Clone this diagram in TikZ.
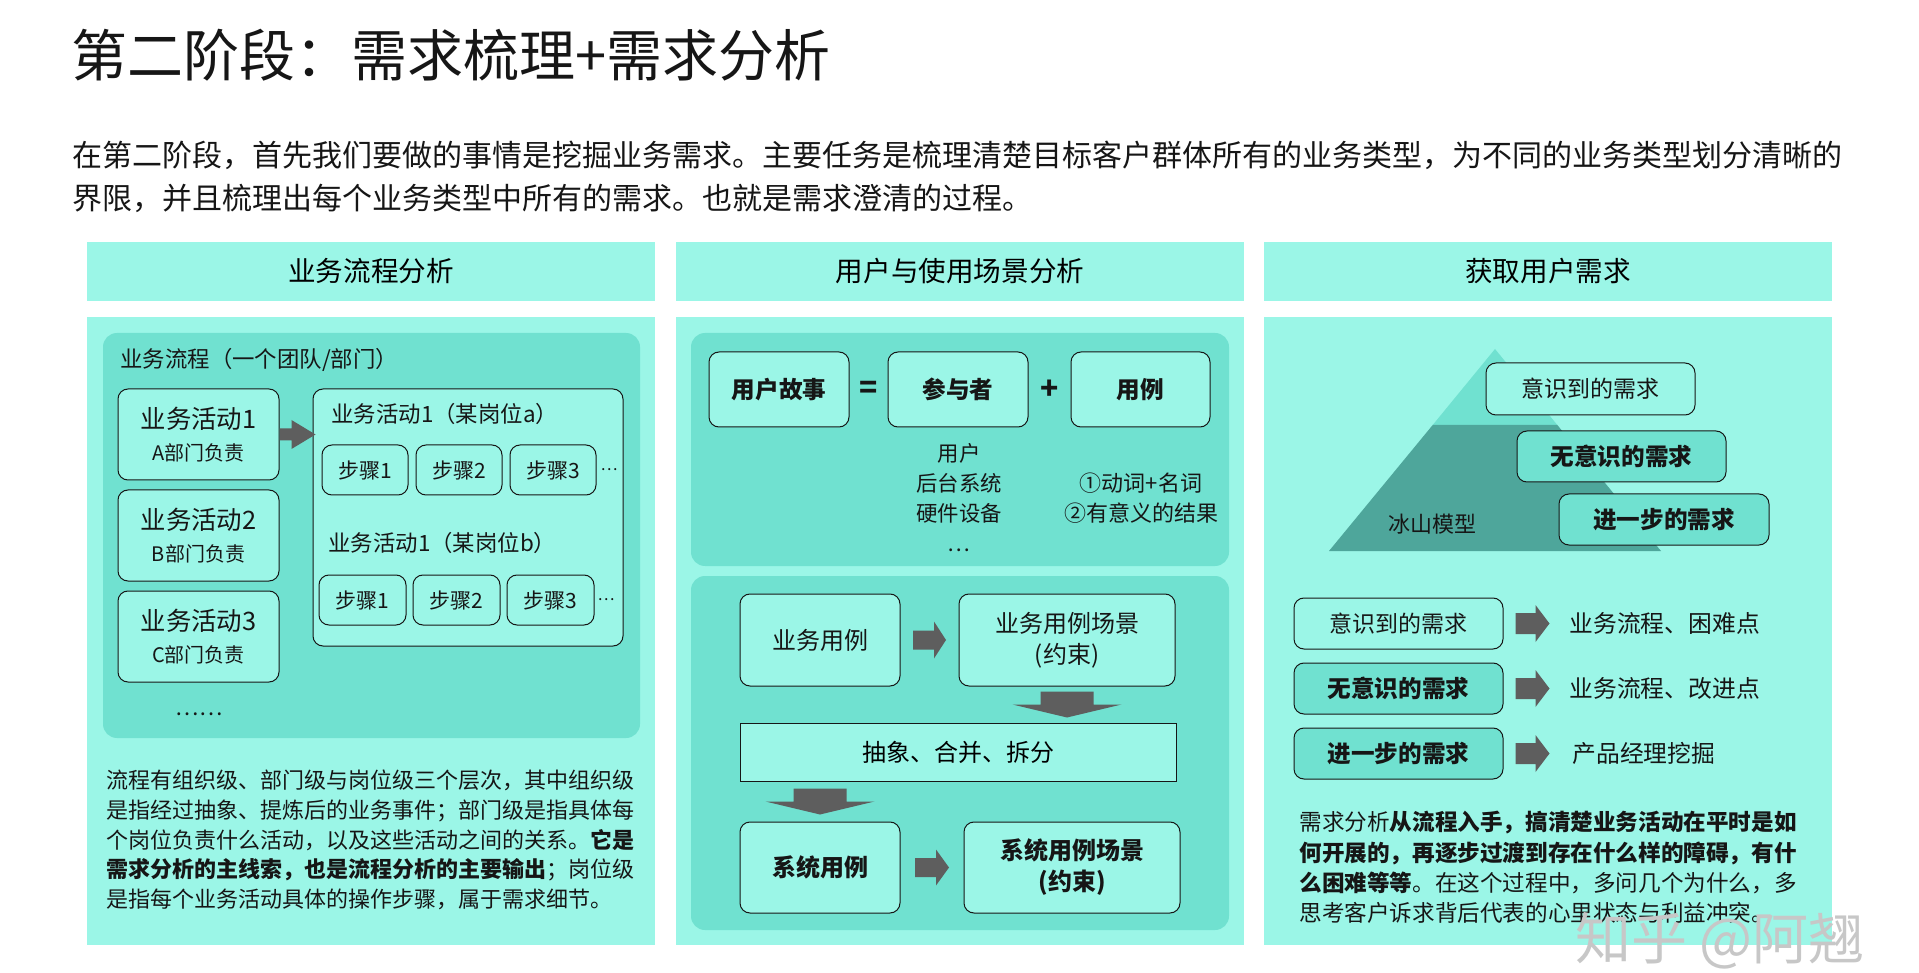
\documentclass[tikz,border=0pt]{standalone}
\usepackage{fontspec}
\setmainfont{Noto Sans CJK SC}
\usetikzlibrary{calc}
\definecolor{lt}{HTML}{9BF6E7}
\definecolor{md}{HTML}{70E1D0}
\definecolor{dk}{HTML}{4EA69B}
\definecolor{arc}{HTML}{5E5E5E}
\definecolor{ink}{HTML}{161616}
\newcommand\myfs[2]{\fontsize{#1}{#2}\selectfont}
% right block arrow: coord, length, head length, head height, shaft height
\newcommand\rblock[5]{\fill[arc, shift={(#1)}] ({-#2/2},{-#5/2}) -- ({#2/2-#3},{-#5/2}) -- ({#2/2-#3},{-#4/2}) -- ({#2/2},0) -- ({#2/2-#3},{#4/2}) -- ({#2/2-#3},{#5/2}) -- ({-#2/2},{#5/2}) -- cycle;}
% down block arrow: coord, total height, head length, head width, shaft width
\newcommand\dblock[5]{\fill[arc, shift={(#1)}] ({-#5/2},{-#2/2}) -- ({#5/2},{-#2/2}) -- ({#5/2},{#2/2-#3}) -- ({#4/2},{#2/2-#3}) -- (0,{#2/2}) -- ({-#4/2},{#2/2-#3}) -- ({-#5/2},{#2/2-#3}) -- cycle;}
\tikzset{
  spanbox/.style n args={4}{at={({(#1+#3)/2},{(#2+#4)/2})}, minimum width={(#3-#1)*0.5pt}, minimum height={(#4-#2)*0.5pt}},
  hdr/.style={fill=lt, draw=none, inner sep=0pt},
  inbox/.style={fill=md, draw=none, rounded corners=7pt, inner sep=0pt},
  bx/.style={draw=ink, line width=0.5pt, fill=lt, rounded corners=5pt, inner sep=0pt, align=center, text=ink},
  bxd/.style={bx, fill=md},
  txt/.style={inner sep=0pt, text=ink},
}
\begin{document}
\begin{tikzpicture}[x=0.5pt,y=-0.5pt]
\useasboundingbox (0,0) rectangle (1919,973);
\fill[white] (0,0) rectangle (1919,973);

% title and intro
\node[txt, anchor=west, font=\myfs{28}{32}] (title) at (71,55) {第二阶段：需求梳理+需求分析};
\node[txt, anchor=west, align=left, font=\myfs{15}{21.5}] (intro) at (72,177) {在第二阶段，首先我们要做的事情是挖掘业务需求。主要任务是梳理清楚目标客户群体所有的业务类型，为不同的业务类型划分清晰的\\界限，并且梳理出每个业务类型中所有的需求。也就是需求澄清的过程。};

% headers and panels
\node[hdr, spanbox={87}{242}{655}{301}, font=\myfs{13.8}{16}] (h1) {业务流程分析};
\node[hdr, spanbox={676}{242}{1244}{301}, font=\myfs{13.8}{16}] (h2) {用户与使用场景分析};
\node[hdr, spanbox={1264}{242}{1832}{301}, font=\myfs{13.8}{16}] (h3) {获取用户需求};
\node[hdr, spanbox={87}{317}{655}{945}] (p1) {};
\node[hdr, spanbox={676}{317}{1244}{945}] (p2) {};
\node[hdr, spanbox={1264}{317}{1832}{945}] (p3) {};

% ---------- panel 1 ----------
\node[inbox, spanbox={103}{333}{640}{738}] (i1) {};
\node[txt, anchor=west, font=\myfs{11.2}{13}] (lbl1) at (120,360) {业务流程（一个团队/部门）};
\node[bx, spanbox={118}{389}{279}{480}, font=\myfs{10}{16}] (a1) {{\myfs{12.7}{16}业务活动1}\\A部门负责};
\node[bx, spanbox={118}{490}{279}{581}, font=\myfs{10}{16}] (a2) {{\myfs{12.7}{16}业务活动2}\\B部门负责};
\node[bx, spanbox={118}{591}{279}{682}, font=\myfs{10}{16}] (a3) {{\myfs{12.7}{16}业务活动3}\\C部门负责};
\node[txt, font=\myfs{11}{13}] (more) at (199,714) {……};
\node[bx, spanbox={313}{389}{623}{646}] (rb) {};
\coordinate (ar1) at ($(a1.east)+(18,0)$);
\rblock{ar1}{36}{24}{29}{12}
\node[txt, anchor=west, font=\myfs{11.2}{13}] (ta) at (331,414) {业务活动1（某岗位a）};
\node[bx, spanbox={322}{445}{408}{495}, font=\myfs{10.5}{12}] (s11) {步骤1};
\node[bx, spanbox={416}{445}{502}{495}, font=\myfs{10.5}{12}] (s12) {步骤2};
\node[bx, spanbox={510}{445}{596}{495}, font=\myfs{10.5}{12}] (s13) {步骤3};
\node[txt, font=\myfs{8}{10}] (e1) at (609,470) {…};
\node[txt, anchor=west, font=\myfs{11.2}{13}] (tb) at (328,543) {业务活动1（某岗位b）};
\node[bx, spanbox={319}{575}{406}{625}, font=\myfs{10.5}{12}] (s21) {步骤1};
\node[bx, spanbox={413}{575}{500}{625}, font=\myfs{10.5}{12}] (s22) {步骤2};
\node[bx, spanbox={507}{575}{594}{625}, font=\myfs{10.5}{12}] (s23) {步骤3};
\node[txt, font=\myfs{8}{10}] (e2) at (606,600) {…};
\node[txt, anchor=west, align=left, font=\myfs{11}{14.9}] (para1) at (106,840) {流程有组织级、部门级与岗位级三个层次，其中组织级\\是指经过抽象、提炼后的业务事件；部门级是指具体每\\个岗位负责什么活动，以及这些活动之间的关系。\textbf{它是}\\\textbf{需求分析的主线索，也是流程分析的主要输出}；岗位级\\是指每个业务活动具体的操作步骤，属于需求细节。};

% ---------- panel 2 ----------
\node[inbox, spanbox={691}{333}{1229}{566}] (i2a) {};
\node[bx, spanbox={709}{352}{849}{427}, font=\myfs{11.8}{14}\bfseries] (us) {用户故事};
\node[bx, spanbox={888}{352}{1028}{427}, font=\myfs{11.8}{14}\bfseries] (act) {参与者};
\node[bx, spanbox={1071}{352}{1210}{427}, font=\myfs{11.8}{14}\bfseries] (uc) {用例};
\node[txt, font=\myfs{15}{16}\bfseries] (eq) at ($(us.east)!0.5!(act.west)$) {=};
\node[txt, font=\myfs{15}{16}\bfseries] (pl) at ($(act.east)!0.5!(uc.west)$) {+};
\node[txt, align=center, font=\myfs{10.7}{15}] (actl) at (959,498) {用户\\后台系统\\硬件设备\\…};
\node[txt, align=center, font=\myfs{11}{15}] (ucl) at (1141,498) {①动词+名词\\②有意义的结果};
\node[inbox, spanbox={691}{576}{1229}{930}] (i2b) {};
\node[bx, spanbox={740}{594}{900}{686}, font=\myfs{12}{15.5}] (buc) {业务用例};
\node[bx, spanbox={959}{594}{1175}{686}, font=\myfs{12}{15.5}] (bucs) {业务用例场景\\(约束)};
\node[draw=ink, line width=0.5pt, fill=lt, inner sep=0pt, spanbox={740}{723}{1176}{781}, font=\myfs{12}{15}] (abs) {抽象、合并、拆分};
\node[bx, spanbox={740}{822}{900}{913}, font=\myfs{12}{15.5}\bfseries] (suc) {系统用例};
\node[bx, spanbox={964}{822}{1180}{913}, font=\myfs{12}{15.5}\bfseries] (sucs) {系统用例场景\\(约束)};
\coordinate (ar2) at ($(buc.east)!0.5!(bucs.west)$);
\rblock{ar2}{33}{12}{37}{19}
\coordinate (ar3) at ($(suc.east)!0.5!(sucs.west)$);
\rblock{ar3}{34}{13}{36}{19}
\coordinate (dr1) at ($(bucs.south)!0.5!(abs.north -| bucs.south)$);
\dblock{dr1}{26}{13}{109}{53}
\coordinate (dr2) at ($(abs.south -| suc.north)!0.5!(suc.north)$);
\dblock{dr2}{26}{13}{109}{53}

% ---------- panel 3 ----------
\fill[md] (1495,349) -- (1557.3,425) -- (1432.7,425) -- cycle;
\fill[dk] (1432.7,425) -- (1557.3,425) -- (1661,551) -- (1329,551) -- cycle;
\node[txt, font=\myfs{11}{13}] (ice) at (1432,524) {冰山模型};
\node[bx, spanbox={1486}{363}{1695}{415}, font=\myfs{11.5}{13}] (k1) {意识到的需求};
\node[bxd, spanbox={1517}{431}{1726}{482}, font=\myfs{11.8}{13}\bfseries] (k2) {无意识的需求};
\node[bxd, spanbox={1559}{494}{1769}{545}, font=\myfs{11.8}{13}\bfseries] (k3) {进一步的需求};

\node[bx, spanbox={1294}{598}{1503}{649}, font=\myfs{11.5}{13}] (r1) {意识到的需求};
\node[bxd, spanbox={1294}{663}{1503}{714}, font=\myfs{11.8}{13}\bfseries] (r2) {无意识的需求};
\node[bxd, spanbox={1294}{728}{1503}{779}, font=\myfs{11.8}{13}\bfseries] (r3) {进一步的需求};
\node[txt, anchor=west, font=\myfs{11.9}{13}] (t1) at (1569,623.5) {业务流程、困难点};
\node[txt, anchor=west, font=\myfs{11.9}{13}] (t2) at (1569,688.5) {业务流程、改进点};
\node[txt, anchor=west, font=\myfs{11.9}{13}] (t3) at (1572,753.5) {产品经理挖掘};
\coordinate (g1) at ($(r1.east)+(29,0)$);
\rblock{g1}{34}{14}{37}{21}
\coordinate (g2) at ($(r2.east)+(29,0)$);
\rblock{g2}{34}{14}{37}{21}
\coordinate (g3) at ($(r3.east)+(29,0)$);
\rblock{g3}{34}{14}{37}{21}
\node[txt, anchor=west, align=left, font=\myfs{11.3}{15.1}] (para3) at (1299,867.5) {需求分析\textbf{从流程入手，搞清楚业务活动在平时是如}\\\textbf{何开展的，再逐步过渡到存在什么样的障碍，有什}\\\textbf{么困难等等}。在这个过程中，多问几个为什么，多\\思考客户诉求背后代表的心里状态与利益冲突。};

% watermark
\node[inner sep=0pt, text=black!22, font=\myfs{28}{30}] (wm) at (1720,941) {知乎 @阿翘};
\end{tikzpicture}
\end{document}
